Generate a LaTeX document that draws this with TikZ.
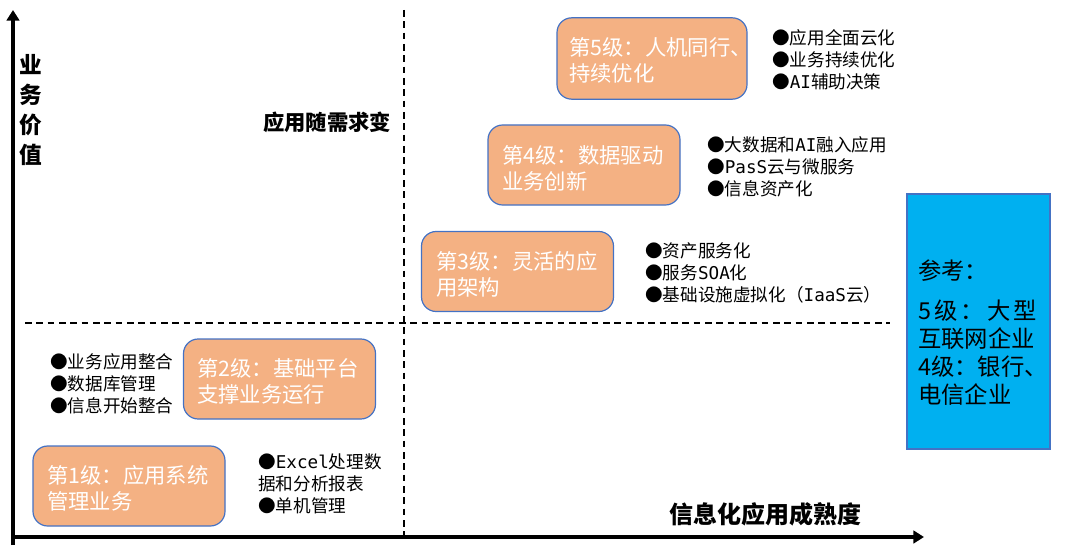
\documentclass[tikz,border=0pt]{standalone}
\usepackage{fontspec}
\setmainfont{Noto Sans CJK SC}
\newfontfamily\latmono{DejaVu Sans Mono}
\newcommand{\lm}[1]{{\latmono #1}}
\usetikzlibrary{arrows.meta}
\definecolor{lvlfill}{HTML}{F4B183}
\definecolor{lvlline}{HTML}{4472C4}
\definecolor{refblue}{HTML}{00B0F0}
\begin{document}
\begin{tikzpicture}[x=0.75pt,y=-0.75pt,
  axis/.style={line width=3pt,-{Triangle[width=9.5pt,length=8pt]}},
  divider/.style={line width=1.3pt,dash pattern=on 5pt off 3.5pt},
  lvlbox/.style={draw=lvlline,line width=0.9pt,fill=lvlfill,rounded corners=11pt,
     minimum width=144pt,minimum height=60pt,inner sep=0pt},
  lvltext/.style={anchor=west,align=left,text=white,inner sep=0pt,
     font=\fontsize{16}{19.5}\selectfont},
  bullets/.style={anchor=west,align=left,inner sep=0pt,
     font=\fontsize{13.2}{16.5}\selectfont},
  axlabel/.style={inner sep=0pt,font=\bfseries\fontsize{16}{20}\selectfont},
]
\useasboundingbox (0,0) rectangle (1080,549);
% axes
\coordinate (ybot) at (13,545);
\coordinate (ytop) at (13,10);
\coordinate (xleft) at (11,537);
\coordinate (xright) at (924,537);
\draw[axis] (ybot) -- (ytop);
\draw[axis] (xleft) -- (xright);
% dividers
\coordinate (vtop) at (404,10);
\coordinate (vbot) at (404,535);
\coordinate (hl) at (25,323);
\coordinate (hr) at (890,323);
\draw[divider] (vtop) -- (vbot);
\draw[divider] (hl) -- (hr);
% axis labels
\node[axlabel,align=center,font=\bfseries\fontsize{17}{22.5}\selectfont] (ylab) at (31,110) {业\\务\\价\\值};
\node[axlabel] (quad) at (327,122) {应用随需求变};
\node[axlabel,font=\bfseries\fontsize{18}{22}\selectfont] (xlab) at (765,514) {信息化应用成熟度};
% level boxes
\node[lvlbox,minimum width=142.5pt,minimum height=61pt] (b5) at (652,58.5) {};
\node[lvltext] (t5) at (569,60) {第5级：人机同行、\\持续优化};
\node[lvlbox] (b4) at (584,165) {};
\node[lvltext] (t4) at (502,168) {第4级：数据驱动\\业务创新};
\node[lvlbox] (b3) at (517.5,271.5) {};
\node[lvltext] (t3) at (436,274) {第3级：灵活的应\\用架构};
\node[lvlbox] (b2) at (279.5,379) {};
\node[lvltext] (t2) at (197,381) {第2级：基础平台\\支撑业务运行};
\node[lvlbox] (b1) at (129,486) {};
\node[lvltext] (t1) at (47,488) {第1级：应用系统\\管理业务};
% bullet lists
\node[bullets] (l5) at (772,60) {●应用全面云化\\●业务持续优化\\●\lm{AI}辅助决策};
\node[bullets] (l4) at (707,167) {●大数据和\lm{AI}融入应用\\●\lm{PasS}云与微服务\\●信息资产化};
\node[bullets] (l3) at (645,273) {●资产服务化\\●服务\lm{SOA}化\\●基础设施虚拟化（\lm{IaaS}云）};
\node[bullets] (l2) at (50,384) {●业务应用整合\\●数据库管理\\●信息开始整合};
\node[bullets] (l1) at (258,484) {●\lm{Excel}处理数\\据和分析报表\\●单机管理};
% reference box
\node[draw=lvlline,line width=0.9pt,fill=refblue,minimum width=107.25pt,minimum height=191.25pt,inner sep=0pt] (ref) at (978.5,321.5) {};
\node[anchor=west,align=left,inner sep=0pt,font=\fontsize{17.5}{21}\selectfont] (reft) at (918,333)
  {参考：\\[9pt]\hbox to 89pt{5\hfill 级\hfill ：\hfill 大\hfill 型}\\互联网企业\\\hbox to 90pt{4\hfill 级\hfill ：\hfill 银\hfill 行、}\\电信企业};
\end{tikzpicture}
\end{document}
